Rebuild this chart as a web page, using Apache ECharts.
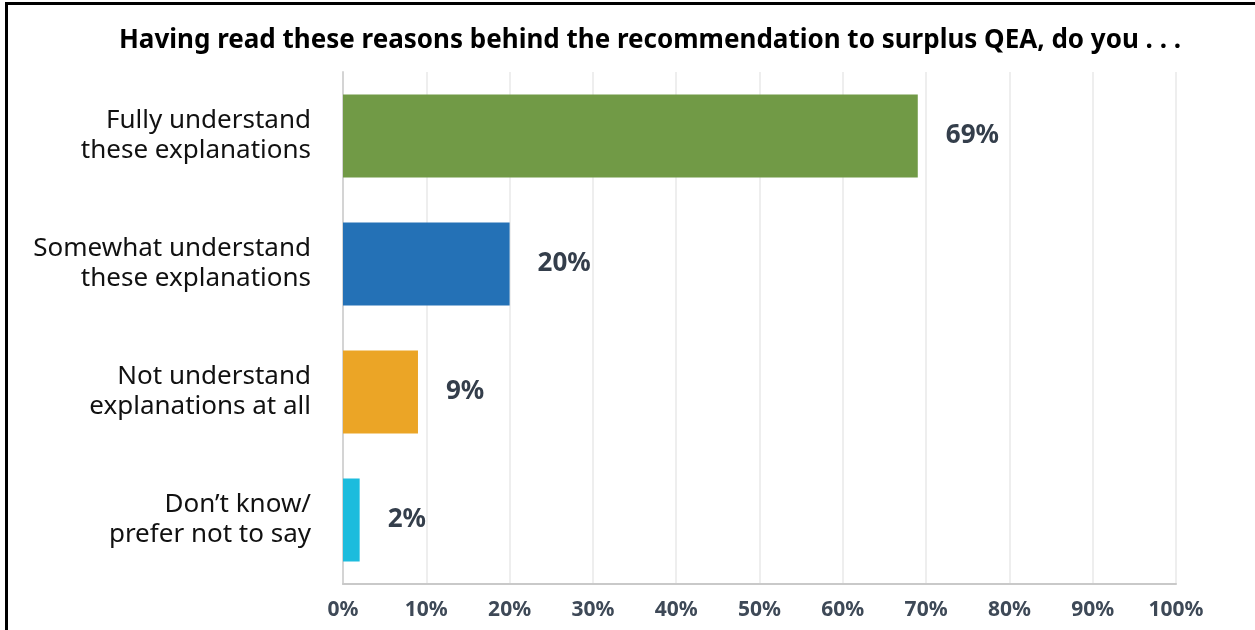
<!DOCTYPE html>
<html>
<head>
<meta charset="utf-8">
<script src="https://cdn.jsdelivr.net/npm/echarts@6/dist/echarts.min.js"></script>
<style>
  html, body { margin: 0; padding: 0; background: #fff; overflow: hidden; }
  #frame { position: absolute; left: 5px; top: 2px; width: 1300px; height: 700px;
           border-left: 3px solid #000; border-top: 3px solid #000; box-sizing: border-box; }
  #chart { position: absolute; left: 0; top: 0; width: 1255px; height: 630px; }
</style>
</head>
<body>
<div id="chart"></div>
<div id="frame"></div>
<script>
// Survey responses, top to bottom
const categories = [
  'Fully understand\nthese explanations',
  'Somewhat understand\nthese explanations',
  'Not understand\nexplanations at all',
  'Don\u2019t know/\nprefer not to say'
];
const shares = [69, 20, 9, 2];
const barColors = ['#719A46', '#2471B6', '#EBA526', '#1CBCDD'];
const tickValues = [0, 10, 20, 30, 40, 50, 60, 70, 80, 90, 100];

const chart = echarts.init(document.getElementById('chart'), null, { renderer: 'canvas' });

const font = '"Noto Sans", "Open Sans", sans-serif';

chart.setOption({
  animation: false,
  backgroundColor: '#ffffff',
  title: {
    text: 'Having read these reasons behind the recommendation to surplus QEA, do you . . .',
    left: 645,
    top: 23,
    textAlign: 'center',
    textStyle: { fontFamily: font, fontWeight: 'bold', fontSize: 26, color: '#000' }
  },
  grid: { left: 343, right: 79, top: 72, bottom: 46 },
  xAxis: {
    type: 'value',
    min: tickValues[0],
    max: tickValues[tickValues.length - 1],
    interval: 10,
    axisLine: { show: true, lineStyle: { color: '#C9C9C9', width: 2 } },
    axisTick: { show: false },
    splitLine: { show: true, lineStyle: { color: '#E8E8E8', width: 1.5 } },
    axisLabel: {
      margin: 16,
      formatter: v => v + '%',
      fontFamily: font, fontWeight: 'bold', fontSize: 21, color: '#3E4957'
    }
  },
  yAxis: {
    type: 'category',
    inverse: true,
    data: categories,
    axisLine: { show: true, lineStyle: { color: '#D4D4D4', width: 2 } },
    axisTick: { show: false },
    axisLabel: {
      margin: 32,
      align: 'right',
      lineHeight: 30,
      fontFamily: font, fontSize: 26, color: '#111'
    }
  },
  series: [{
    type: 'bar',
    barWidth: '65%',
    data: shares.map((v, i) => ({ value: v, itemStyle: { color: barColors[i] } })),
    label: {
      show: true,
      position: 'right',
      distance: 28,
      formatter: p => p.value + '%',
      fontFamily: font, fontWeight: 'bold', fontSize: 26, color: '#343E4B'
    }
  }]
});
</script>
</body>
</html>
